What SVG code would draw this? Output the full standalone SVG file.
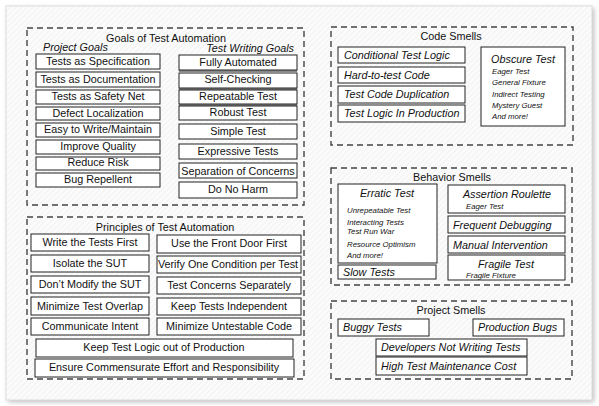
<svg xmlns="http://www.w3.org/2000/svg" width="599" height="406" viewBox="0 0 599 406">
<defs>
<pattern id="hatch" width="4" height="4" patternUnits="userSpaceOnUse" patternTransform="rotate(45)">
<rect width="4" height="4" fill="#fbfbfb"/>
<line x1="0" y1="0" x2="0" y2="4" stroke="#efefef" stroke-width="1.5"/>
</pattern>
<filter id="sh" x="-5%" y="-5%" width="110%" height="110%">
<feGaussianBlur stdDeviation="2.5"/>
</filter>
<style>
.grp{fill:none;stroke:#444;stroke-width:1.4;stroke-dasharray:6 4}
.box{fill:#fff;stroke:#222;stroke-width:1}
.gbar{fill:#888}
text{font-family:"Liberation Sans",Arial,sans-serif;fill:#111;font-size:10.8px}
.c{text-anchor:middle}
.r{text-anchor:end}
.i{font-style:italic}
.s{font-style:italic;font-size:7.8px}
</style>
</defs>
<rect width="599" height="406" fill="#fff"/>
<rect x="8" y="8" width="586" height="394" fill="#bbb" filter="url(#sh)"/>
<rect x="6" y="6" width="586" height="394" fill="url(#hatch)" stroke="#ddd" stroke-width="1"/>

<g id="goals">
<rect class="grp" x="27" y="28" width="277" height="177"/>
<text class="c" x="166" y="42">Goals of Test Automation</text>
<text class="i" x="43" y="51">Project Goals</text>
<text class="i r" x="294" y="52">Test Writing Goals</text>
</g>
<g id="tests-as-specification"><rect class="box" x="36" y="54" width="124" height="15"/><text class="c" x="98" y="65">Tests as Specification</text></g>
<g id="tests-as-documentation"><rect class="box" x="36" y="72" width="124" height="15"/><text class="c" x="98" y="83">Tests as Documentation</text></g>
<g id="tests-as-safety-net"><rect class="box" x="36" y="90" width="124" height="14"/><text class="c" x="98" y="100">Tests as Safety Net</text></g>
<g id="defect-localization"><rect class="box" x="36" y="107" width="124" height="13"/><text class="c" x="98" y="117">Defect Localization</text></g>
<g id="easy-to-write"><rect class="box" x="36" y="123" width="124" height="14"/><text class="c" x="98" y="133">Easy to Write/Maintain</text></g>
<g id="improve-quality"><rect class="box" x="36" y="140" width="124" height="14"/><text class="c" x="98" y="150">Improve Quality</text></g>
<g id="reduce-risk"><rect class="box" x="36" y="157" width="124" height="13"/><text class="c" x="98" y="166">Reduce Risk</text></g>
<g id="bug-repellent"><rect class="box" x="36" y="173" width="124" height="14"/><text class="c" x="98" y="183">Bug Repellent</text></g>

<g id="fully-automated"><rect class="gbar" x="179" y="69" width="118" height="3"/><rect class="box" x="179" y="55" width="118" height="15"/><text class="c" x="238" y="66">Fully Automated</text></g>
<g id="self-checking"><rect class="gbar" x="179" y="87" width="118" height="3"/><rect class="box" x="179" y="73" width="118" height="15"/><text class="c" x="238" y="83">Self-Checking</text></g>
<g id="repeatable-test"><rect class="gbar" x="179" y="103" width="118" height="3"/><rect class="box" x="179" y="90" width="118" height="14"/><text class="c" x="238" y="100">Repeatable Test</text></g>
<g id="robust-test"><rect class="box" x="179" y="106" width="118" height="14"/><text class="c" x="238" y="116">Robust Test</text></g>
<g id="simple-test"><rect class="box" x="179" y="124" width="118" height="15"/><text class="c" x="238" y="135">Simple Test</text></g>
<g id="expressive-tests"><rect class="box" x="179" y="144" width="118" height="15"/><text class="c" x="238" y="155">Expressive Tests</text></g>
<g id="separation-of-concerns"><rect class="box" x="179" y="163" width="118" height="15"/><text class="c" x="238" y="175">Separation of Concerns</text></g>
<g id="do-no-harm"><rect class="box" x="179" y="182" width="118" height="16"/><text class="c" x="238" y="193">Do No Harm</text></g>

<g id="principles">
<rect class="grp" x="27" y="217" width="277" height="162"/>
<text class="c" x="165" y="231">Principles of Test Automation</text>
</g>
<g id="write-tests-first"><rect class="box" x="31" y="234" width="118" height="17"/><text class="c" x="90" y="246">Write the Tests First</text></g>
<g id="isolate-sut"><rect class="box" x="31" y="255" width="118" height="17"/><text class="c" x="90" y="267">Isolate the SUT</text></g>
<g id="dont-modify-sut"><rect class="box" x="31" y="276" width="118" height="17"/><text class="c" x="90" y="288">Don’t Modify the SUT</text></g>
<g id="minimize-overlap"><rect class="box" x="31" y="297" width="118" height="18"/><text class="c" x="90" y="310">Minimize Test Overlap</text></g>
<g id="communicate-intent"><rect class="box" x="31" y="318" width="118" height="17"/><text class="c" x="90" y="330">Communicate Intent</text></g>
<g id="front-door-first"><rect class="box" x="157" y="235" width="144" height="18"/><text class="c" x="229" y="247">Use the Front Door First</text></g>
<g id="verify-one-condition"><rect class="box" x="157" y="256" width="144" height="17"/><text class="c" x="228" y="268">Verify One Condition per Test</text></g>
<g id="test-concerns-separately"><rect class="box" x="157" y="277" width="144" height="17"/><text class="c" x="229" y="289">Test Concerns Separately</text></g>
<g id="keep-tests-independent"><rect class="box" x="157" y="298" width="144" height="17"/><text class="c" x="229" y="310">Keep Tests Independent</text></g>
<g id="minimize-untestable"><rect class="box" x="157" y="318" width="144" height="17"/><text class="c" x="229" y="330">Minimize Untestable Code</text></g>
<g id="keep-logic-out"><rect class="box" x="36" y="339" width="257" height="18"/><text class="c" x="164" y="351">Keep Test Logic out of Production</text></g>
<g id="ensure-commensurate"><rect class="box" x="35" y="359" width="259" height="18"/><text class="c" x="164" y="371">Ensure Commensurate Effort and Responsibility</text></g>

<g id="code-smells">
<rect class="grp" x="331" y="27" width="242" height="118"/>
<text class="c" x="451" y="40">Code Smells</text>
</g>
<g id="conditional-test-logic"><rect class="box" x="338" y="47" width="127" height="16"/><text class="i" x="344" y="59">Conditional Test Logic</text></g>
<g id="hard-to-test-code"><rect class="box" x="338" y="67" width="127" height="16"/><text class="i" x="344" y="79">Hard-to-test Code</text></g>
<g id="test-code-duplication"><rect class="box" x="338" y="86" width="127" height="17"/><text class="i" x="344" y="98">Test Code Duplication</text></g>
<g id="test-logic-in-production"><rect class="box" x="338" y="105" width="127" height="17"/><text class="i" x="344" y="117">Test Logic In Production</text></g>
<g id="obscure-test"><rect class="box" x="481" y="47" width="84" height="79"/>
<text class="i c" x="523" y="63">Obscure Test</text>
<text class="s" x="492" y="74">Eager Test</text>
<text class="s" x="492" y="85">General Fixture</text>
<text class="s" x="492" y="97">Indirect Testing</text>
<text class="s" x="492" y="108">Mystery Guest</text>
<text class="s" x="492" y="119">And more!</text>
</g>

<g id="behavior-smells">
<rect class="grp" x="331" y="168" width="241" height="117"/>
<text class="c" x="452" y="181">Behavior Smells</text>
</g>
<g id="erratic-test"><rect class="box" x="338" y="184" width="99" height="79"/>
<text class="i c" x="387" y="197">Erratic Test</text>
<text class="s" x="347" y="213">Unrepeatable Test</text>
<text class="s" x="347" y="225">Interacting Tests</text>
<text class="s" x="347" y="234">Test Run War</text>
<text class="s" x="347" y="247">Resource Optimism</text>
<text class="s" x="347" y="258">And more!</text>
</g>
<g id="slow-tests"><rect class="box" x="338" y="265" width="98" height="14"/><text class="i" x="343" y="276">Slow Tests</text></g>
<g id="assertion-roulette"><rect class="box" x="448" y="185" width="117" height="28"/>
<text class="i c" x="507" y="198">Assertion Roulette</text>
<text class="s" x="466" y="209">Eager Test</text>
</g>
<g id="frequent-debugging"><rect class="box" x="448" y="216" width="117" height="17"/><text class="i" x="453" y="229">Frequent Debugging</text></g>
<g id="manual-intervention"><rect class="box" x="448" y="236" width="117" height="17"/><text class="i" x="453" y="249">Manual Intervention</text></g>
<g id="fragile-test"><rect class="box" x="448" y="255" width="117" height="25"/>
<text class="i c" x="506" y="268">Fragile Test</text>
<text class="s c" x="491" y="278">Fragile Fixture</text>
</g>

<g id="project-smells">
<rect class="grp" x="331" y="301" width="241" height="78"/>
<text class="c" x="451" y="314">Project Smells</text>
</g>
<g id="buggy-tests"><rect class="box" x="338" y="319" width="91" height="17"/><text class="i" x="343" y="331">Buggy Tests</text></g>
<g id="production-bugs"><rect class="box" x="473" y="319" width="91" height="17"/><text class="i" x="478" y="331">Production Bugs</text></g>
<g id="developers-not-writing"><rect class="box" x="376" y="339" width="151" height="17"/><text class="i" x="381" y="351">Developers Not Writing Tests</text></g>
<g id="high-maintenance-cost"><rect class="box" x="376" y="357" width="151" height="18"/><text class="i" x="381" y="370">High Test Maintenance Cost</text></g>

<g id="connectors"/>
</svg>
